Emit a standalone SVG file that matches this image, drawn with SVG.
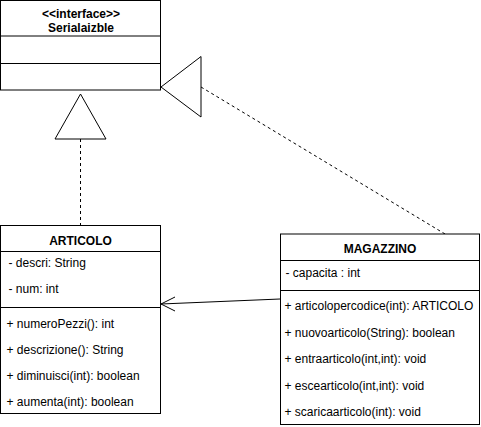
<svg xmlns="http://www.w3.org/2000/svg" width="481" height="427" viewBox="0 0 481 427">
<style>
.box{fill:#fff;stroke:#000;stroke-width:1}
.ln{stroke:#000;stroke-width:1;fill:none}
.dash{stroke:#000;stroke-width:1;fill:none;stroke-dasharray:3 3}
.tri{fill:#fff;stroke:#000;stroke-width:1}
text{font-family:"Liberation Sans",Arial,sans-serif;font-size:12px;fill:#000}
.b{font-weight:bold;text-anchor:middle}
</style>
<rect width="481" height="427" fill="#fff"/>
<g id="connectors">
<line class="dash" x1="80.5" y1="139" x2="80.5" y2="225.5"/>
<polygon class="tri" points="80.5,94 106,139 55,139"/>
<line class="dash" x1="201" y1="87" x2="455" y2="240"/>
<polygon class="tri" points="161,87 201,56.5 201,117"/>
<line class="ln" x1="280" y1="299" x2="161" y2="304"/>
<polyline class="ln" points="175,297 161,304 175,311"/>
</g>
<g id="serializable">
<rect class="box" x="0.5" y="0.5" width="160" height="89.5"/>
<line class="ln" x1="0.5" y1="36" x2="160.5" y2="36"/>
<line class="ln" x1="0.5" y1="63.5" x2="160.5" y2="63.5"/>
<text class="b" x="81" y="17.5">&lt;&lt;interface&gt;&gt;</text>
<text class="b" x="81" y="31.5">Serialaizble</text>
</g>
<g id="articolo">
<rect class="box" x="0.5" y="225.5" width="160" height="188"/>
<line class="ln" x1="0.5" y1="251.5" x2="160.5" y2="251.5"/>
<line class="ln" x1="0.5" y1="307.5" x2="160.5" y2="307.5"/>
<text class="b" x="80.5" y="244.5">ARTICOLO</text>
<text x="8.5" y="267">- descri: String</text>
<text x="8.5" y="293">- num: int</text>
<text x="6.5" y="328">+ numeroPezzi(): int</text>
<text x="6.5" y="354">+ descrizione(): String</text>
<text x="6.5" y="380">+ diminuisci(int): boolean</text>
<text x="6.5" y="406">+ aumenta(int): boolean</text>
</g>
<g id="magazzino">
<rect class="box" x="280.5" y="234" width="199" height="190.5"/>
<line class="ln" x1="280.5" y1="260.5" x2="479.5" y2="260.5"/>
<line class="ln" x1="280.5" y1="290.5" x2="479.5" y2="290.5"/>
<text class="b" x="380" y="253">MAGAZZINO</text>
<text x="285.5" y="277">- capacita : int</text>
<text x="284.5" y="310">+ articolopercodice(int): ARTICOLO</text>
<text x="284.5" y="336.5">+ nuovoarticolo(String): boolean</text>
<text x="284.5" y="363">+ entraarticolo(int,int): void</text>
<text x="284.5" y="389.5">+ escearticolo(int,int): void</text>
<text x="284.5" y="416">+ scaricaarticolo(int): void</text>
</g>
</svg>
